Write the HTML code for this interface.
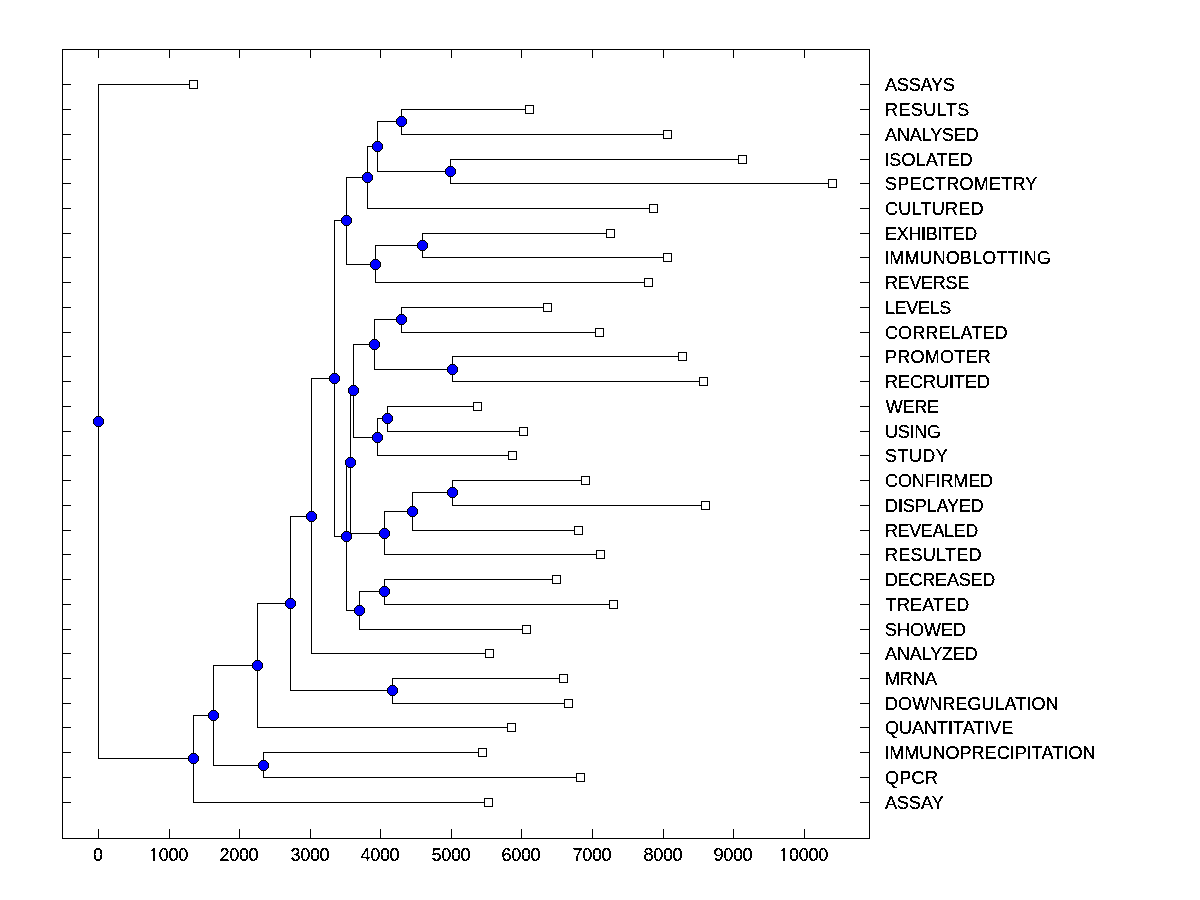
<!DOCTYPE html>
<html><head><meta charset="utf-8"><title>Dendrogram</title>
<style>
html,body{margin:0;padding:0;background:#fff;}
body{width:1200px;height:900px;overflow:hidden;}
svg{display:block;}
text{font-family:"Liberation Sans",Arial,sans-serif;font-size:18px;fill:#000;stroke:none;}
.one{font-family:NanumGothic,"Liberation Sans",sans-serif;}
</style></head><body>
<svg width="1200" height="900" viewBox="0 0 1200 900">
<rect x="0" y="0" width="1200" height="900" fill="#fff"/>
<defs><filter id="alias" x="0" y="0" width="1200" height="900" filterUnits="userSpaceOnUse" color-interpolation-filters="sRGB"><feComponentTransfer><feFuncA type="discrete" tableValues="0 1 1"/></feComponentTransfer></filter></defs>
<g shape-rendering="crispEdges" fill="#000">
<path d="M62,49h808v1h-808zM62,838h808v1h-808zM62,49h1v790h-1zM869,49h1v790h-1zM98,49h1v9h-1zM98,829h1v10h-1zM169,49h1v9h-1zM169,829h1v10h-1zM239,49h1v9h-1zM239,829h1v10h-1zM310,49h1v9h-1zM310,829h1v10h-1zM380,49h1v9h-1zM380,829h1v10h-1zM451,49h1v9h-1zM451,829h1v10h-1zM521,49h1v9h-1zM521,829h1v10h-1zM592,49h1v9h-1zM592,829h1v10h-1zM663,49h1v9h-1zM663,829h1v10h-1zM733,49h1v9h-1zM733,829h1v10h-1zM804,49h1v9h-1zM804,829h1v10h-1zM62,84h9v1h-9zM860,84h10v1h-10zM62,109h9v1h-9zM860,109h10v1h-10zM62,134h9v1h-9zM860,134h10v1h-10zM62,159h9v1h-9zM860,159h10v1h-10zM62,183h9v1h-9zM860,183h10v1h-10zM62,208h9v1h-9zM860,208h10v1h-10zM62,233h9v1h-9zM860,233h10v1h-10zM62,257h9v1h-9zM860,257h10v1h-10zM62,282h9v1h-9zM860,282h10v1h-10zM62,307h9v1h-9zM860,307h10v1h-10zM62,332h9v1h-9zM860,332h10v1h-10zM62,356h9v1h-9zM860,356h10v1h-10zM62,381h9v1h-9zM860,381h10v1h-10zM62,406h9v1h-9zM860,406h10v1h-10zM62,431h9v1h-9zM860,431h10v1h-10zM62,455h9v1h-9zM860,455h10v1h-10zM62,480h9v1h-9zM860,480h10v1h-10zM62,505h9v1h-9zM860,505h10v1h-10zM62,530h9v1h-9zM860,530h10v1h-10zM62,554h9v1h-9zM860,554h10v1h-10zM62,579h9v1h-9zM860,579h10v1h-10zM62,604h9v1h-9zM860,604h10v1h-10zM62,629h9v1h-9zM860,629h10v1h-10zM62,653h9v1h-9zM860,653h10v1h-10zM62,678h9v1h-9zM860,678h10v1h-10zM62,703h9v1h-9zM860,703h10v1h-10zM62,727h9v1h-9zM860,727h10v1h-10zM62,752h9v1h-9zM860,752h10v1h-10zM62,777h9v1h-9zM860,777h10v1h-10zM62,802h9v1h-9zM860,802h10v1h-10zM401,109h1v26h-1zM401,109h129v1h-129zM401,134h267v1h-267zM450,159h1v25h-1zM450,159h293v1h-293zM450,183h383v1h-383zM377,121h1v51h-1zM377,121h25v1h-25zM377,171h74v1h-74zM367,146h1v63h-1zM367,146h11v1h-11zM367,208h287v1h-287zM422,233h1v25h-1zM422,233h189v1h-189zM422,257h246v1h-246zM375,245h1v38h-1zM375,245h48v1h-48zM375,282h274v1h-274zM346,177h1v88h-1zM346,177h22v1h-22zM346,264h30v1h-30zM401,307h1v26h-1zM401,307h147v1h-147zM401,332h199v1h-199zM452,356h1v26h-1zM452,356h231v1h-231zM452,381h252v1h-252zM374,319h1v51h-1zM374,319h28v1h-28zM374,369h79v1h-79zM387,406h1v26h-1zM387,406h91v1h-91zM387,431h137v1h-137zM377,418h1v38h-1zM377,418h11v1h-11zM377,455h136v1h-136zM353,344h1v94h-1zM353,344h22v1h-22zM353,437h25v1h-25zM452,480h1v26h-1zM452,480h134v1h-134zM452,505h254v1h-254zM412,492h1v39h-1zM412,492h41v1h-41zM412,530h167v1h-167zM384,511h1v44h-1zM384,511h29v1h-29zM384,554h217v1h-217zM384,579h1v26h-1zM384,579h173v1h-173zM384,604h230v1h-230zM359,591h1v39h-1zM359,591h26v1h-26zM359,629h168v1h-168zM350,390h1v144h-1zM350,390h4v1h-4zM350,533h35v1h-35zM346,462h1v149h-1zM346,462h5v1h-5zM346,610h14v1h-14zM334,220h1v317h-1zM334,220h13v1h-13zM334,536h13v1h-13zM311,378h1v276h-1zM311,378h24v1h-24zM311,653h179v1h-179zM392,678h1v26h-1zM392,678h172v1h-172zM392,703h177v1h-177zM290,516h1v175h-1zM290,516h22v1h-22zM290,690h103v1h-103zM257,603h1v125h-1zM257,603h34v1h-34zM257,727h255v1h-255zM263,752h1v26h-1zM263,752h220v1h-220zM263,777h318v1h-318zM213,665h1v101h-1zM213,665h45v1h-45zM213,765h51v1h-51zM193,715h1v88h-1zM193,715h21v1h-21zM193,802h296v1h-296zM98,84h1v675h-1zM98,84h96v1h-96zM98,758h96v1h-96z"/>
<path fill="#000" d="M399,116h5v1h1v1h1v1h1v5h-1v1h-1v1h-1v1h-5v-1h-1v-1h-1v-1h-1v-5h1v-1h1v-1h1zM448,166h5v1h1v1h1v1h1v5h-1v1h-1v1h-1v1h-5v-1h-1v-1h-1v-1h-1v-5h1v-1h1v-1h1zM375,141h5v1h1v1h1v1h1v5h-1v1h-1v1h-1v1h-5v-1h-1v-1h-1v-1h-1v-5h1v-1h1v-1h1zM365,172h5v1h1v1h1v1h1v5h-1v1h-1v1h-1v1h-5v-1h-1v-1h-1v-1h-1v-5h1v-1h1v-1h1zM420,240h5v1h1v1h1v1h1v5h-1v1h-1v1h-1v1h-5v-1h-1v-1h-1v-1h-1v-5h1v-1h1v-1h1zM373,259h5v1h1v1h1v1h1v5h-1v1h-1v1h-1v1h-5v-1h-1v-1h-1v-1h-1v-5h1v-1h1v-1h1zM344,215h5v1h1v1h1v1h1v5h-1v1h-1v1h-1v1h-5v-1h-1v-1h-1v-1h-1v-5h1v-1h1v-1h1zM399,314h5v1h1v1h1v1h1v5h-1v1h-1v1h-1v1h-5v-1h-1v-1h-1v-1h-1v-5h1v-1h1v-1h1zM450,364h5v1h1v1h1v1h1v5h-1v1h-1v1h-1v1h-5v-1h-1v-1h-1v-1h-1v-5h1v-1h1v-1h1zM372,339h5v1h1v1h1v1h1v5h-1v1h-1v1h-1v1h-5v-1h-1v-1h-1v-1h-1v-5h1v-1h1v-1h1zM385,413h5v1h1v1h1v1h1v5h-1v1h-1v1h-1v1h-5v-1h-1v-1h-1v-1h-1v-5h1v-1h1v-1h1zM375,432h5v1h1v1h1v1h1v5h-1v1h-1v1h-1v1h-5v-1h-1v-1h-1v-1h-1v-5h1v-1h1v-1h1zM351,385h5v1h1v1h1v1h1v5h-1v1h-1v1h-1v1h-5v-1h-1v-1h-1v-1h-1v-5h1v-1h1v-1h1zM450,487h5v1h1v1h1v1h1v5h-1v1h-1v1h-1v1h-5v-1h-1v-1h-1v-1h-1v-5h1v-1h1v-1h1zM410,506h5v1h1v1h1v1h1v5h-1v1h-1v1h-1v1h-5v-1h-1v-1h-1v-1h-1v-5h1v-1h1v-1h1zM382,528h5v1h1v1h1v1h1v5h-1v1h-1v1h-1v1h-5v-1h-1v-1h-1v-1h-1v-5h1v-1h1v-1h1zM382,586h5v1h1v1h1v1h1v5h-1v1h-1v1h-1v1h-5v-1h-1v-1h-1v-1h-1v-5h1v-1h1v-1h1zM357,605h5v1h1v1h1v1h1v5h-1v1h-1v1h-1v1h-5v-1h-1v-1h-1v-1h-1v-5h1v-1h1v-1h1zM348,457h5v1h1v1h1v1h1v5h-1v1h-1v1h-1v1h-5v-1h-1v-1h-1v-1h-1v-5h1v-1h1v-1h1zM344,531h5v1h1v1h1v1h1v5h-1v1h-1v1h-1v1h-5v-1h-1v-1h-1v-1h-1v-5h1v-1h1v-1h1zM332,373h5v1h1v1h1v1h1v5h-1v1h-1v1h-1v1h-5v-1h-1v-1h-1v-1h-1v-5h1v-1h1v-1h1zM309,511h5v1h1v1h1v1h1v5h-1v1h-1v1h-1v1h-5v-1h-1v-1h-1v-1h-1v-5h1v-1h1v-1h1zM390,685h5v1h1v1h1v1h1v5h-1v1h-1v1h-1v1h-5v-1h-1v-1h-1v-1h-1v-5h1v-1h1v-1h1zM288,598h5v1h1v1h1v1h1v5h-1v1h-1v1h-1v1h-5v-1h-1v-1h-1v-1h-1v-5h1v-1h1v-1h1zM255,660h5v1h1v1h1v1h1v5h-1v1h-1v1h-1v1h-5v-1h-1v-1h-1v-1h-1v-5h1v-1h1v-1h1zM261,760h5v1h1v1h1v1h1v5h-1v1h-1v1h-1v1h-5v-1h-1v-1h-1v-1h-1v-5h1v-1h1v-1h1zM211,710h5v1h1v1h1v1h1v5h-1v1h-1v1h-1v1h-5v-1h-1v-1h-1v-1h-1v-5h1v-1h1v-1h1zM191,753h5v1h1v1h1v1h1v5h-1v1h-1v1h-1v1h-5v-1h-1v-1h-1v-1h-1v-5h1v-1h1v-1h1zM96,416h5v1h1v1h1v1h1v5h-1v1h-1v1h-1v1h-5v-1h-1v-1h-1v-1h-1v-5h1v-1h1v-1h1z"/>
<path fill="#00f" d="M399,117h5v1h1v1h1v5h-1v1h-1v1h-5v-1h-1v-1h-1v-5h1v-1h1zM448,167h5v1h1v1h1v5h-1v1h-1v1h-5v-1h-1v-1h-1v-5h1v-1h1zM375,142h5v1h1v1h1v5h-1v1h-1v1h-5v-1h-1v-1h-1v-5h1v-1h1zM365,173h5v1h1v1h1v5h-1v1h-1v1h-5v-1h-1v-1h-1v-5h1v-1h1zM420,241h5v1h1v1h1v5h-1v1h-1v1h-5v-1h-1v-1h-1v-5h1v-1h1zM373,260h5v1h1v1h1v5h-1v1h-1v1h-5v-1h-1v-1h-1v-5h1v-1h1zM344,216h5v1h1v1h1v5h-1v1h-1v1h-5v-1h-1v-1h-1v-5h1v-1h1zM399,315h5v1h1v1h1v5h-1v1h-1v1h-5v-1h-1v-1h-1v-5h1v-1h1zM450,365h5v1h1v1h1v5h-1v1h-1v1h-5v-1h-1v-1h-1v-5h1v-1h1zM372,340h5v1h1v1h1v5h-1v1h-1v1h-5v-1h-1v-1h-1v-5h1v-1h1zM385,414h5v1h1v1h1v5h-1v1h-1v1h-5v-1h-1v-1h-1v-5h1v-1h1zM375,433h5v1h1v1h1v5h-1v1h-1v1h-5v-1h-1v-1h-1v-5h1v-1h1zM351,386h5v1h1v1h1v5h-1v1h-1v1h-5v-1h-1v-1h-1v-5h1v-1h1zM450,488h5v1h1v1h1v5h-1v1h-1v1h-5v-1h-1v-1h-1v-5h1v-1h1zM410,507h5v1h1v1h1v5h-1v1h-1v1h-5v-1h-1v-1h-1v-5h1v-1h1zM382,529h5v1h1v1h1v5h-1v1h-1v1h-5v-1h-1v-1h-1v-5h1v-1h1zM382,587h5v1h1v1h1v5h-1v1h-1v1h-5v-1h-1v-1h-1v-5h1v-1h1zM357,606h5v1h1v1h1v5h-1v1h-1v1h-5v-1h-1v-1h-1v-5h1v-1h1zM348,458h5v1h1v1h1v5h-1v1h-1v1h-5v-1h-1v-1h-1v-5h1v-1h1zM344,532h5v1h1v1h1v5h-1v1h-1v1h-5v-1h-1v-1h-1v-5h1v-1h1zM332,374h5v1h1v1h1v5h-1v1h-1v1h-5v-1h-1v-1h-1v-5h1v-1h1zM309,512h5v1h1v1h1v5h-1v1h-1v1h-5v-1h-1v-1h-1v-5h1v-1h1zM390,686h5v1h1v1h1v5h-1v1h-1v1h-5v-1h-1v-1h-1v-5h1v-1h1zM288,599h5v1h1v1h1v5h-1v1h-1v1h-5v-1h-1v-1h-1v-5h1v-1h1zM255,661h5v1h1v1h1v5h-1v1h-1v1h-5v-1h-1v-1h-1v-5h1v-1h1zM261,761h5v1h1v1h1v5h-1v1h-1v1h-5v-1h-1v-1h-1v-5h1v-1h1zM211,711h5v1h1v1h1v5h-1v1h-1v1h-5v-1h-1v-1h-1v-5h1v-1h1zM191,754h5v1h1v1h1v5h-1v1h-1v1h-5v-1h-1v-1h-1v-5h1v-1h1zM96,417h5v1h1v1h1v5h-1v1h-1v1h-5v-1h-1v-1h-1v-5h1v-1h1z"/>
<path fill="#000" d="M189,80h9v9h-9zM525,105h9v9h-9zM663,130h9v9h-9zM738,155h9v9h-9zM828,179h9v9h-9zM649,204h9v9h-9zM606,229h9v9h-9zM663,253h9v9h-9zM644,278h9v9h-9zM543,303h9v9h-9zM595,328h9v9h-9zM678,352h9v9h-9zM699,377h9v9h-9zM473,402h9v9h-9zM519,427h9v9h-9zM508,451h9v9h-9zM581,476h9v9h-9zM701,501h9v9h-9zM574,526h9v9h-9zM596,550h9v9h-9zM552,575h9v9h-9zM609,600h9v9h-9zM522,625h9v9h-9zM485,649h9v9h-9zM559,674h9v9h-9zM564,699h9v9h-9zM507,723h9v9h-9zM478,748h9v9h-9zM576,773h9v9h-9zM484,798h9v9h-9z"/>
<path fill="#fff" d="M190,81h7v7h-7zM526,106h7v7h-7zM664,131h7v7h-7zM739,156h7v7h-7zM829,180h7v7h-7zM650,205h7v7h-7zM607,230h7v7h-7zM664,254h7v7h-7zM645,279h7v7h-7zM544,304h7v7h-7zM596,329h7v7h-7zM679,353h7v7h-7zM700,378h7v7h-7zM474,403h7v7h-7zM520,428h7v7h-7zM509,452h7v7h-7zM582,477h7v7h-7zM702,502h7v7h-7zM575,527h7v7h-7zM597,551h7v7h-7zM553,576h7v7h-7zM610,601h7v7h-7zM523,626h7v7h-7zM486,650h7v7h-7zM560,675h7v7h-7zM565,700h7v7h-7zM508,724h7v7h-7zM479,749h7v7h-7zM577,774h7v7h-7zM485,799h7v7h-7z"/>
</g>
<g filter="url(#alias)">
<text x="885.00" y="91" textLength="69.80" lengthAdjust="spacing">ASSAYS</text>
<text x="885.00" y="116" textLength="84.39" lengthAdjust="spacing">RESULTS</text>
<text x="885.00" y="141" textLength="93.80" lengthAdjust="spacing">ANALYSED</text>
<text x="884.20" y="166" textLength="88.60" lengthAdjust="spacing">ISOLATED</text>
<text x="885.00" y="190" textLength="152.39" lengthAdjust="spacing">SPECTROMETRY</text>
<text x="885.00" y="215" textLength="98.47" lengthAdjust="spacing">CULTURED</text>
<text x="885.00" y="240" textLength="92.33" lengthAdjust="spacing">EXHIBITED</text>
<text x="884.20" y="264" textLength="166.80" lengthAdjust="spacing">IMMUNOBLOTTING</text>
<text x="885.00" y="289" textLength="84.23" lengthAdjust="spacing">REVERSE</text>
<text x="885.00" y="314" textLength="66.25" lengthAdjust="spacing">LEVELS</text>
<text x="885.00" y="339" textLength="122.59" lengthAdjust="spacing">CORRELATED</text>
<text x="885.00" y="363" textLength="105.82" lengthAdjust="spacing">PROMOTER</text>
<text x="885.00" y="388" textLength="105.02" lengthAdjust="spacing">RECRUITED</text>
<text x="885.80" y="413" textLength="53.10" lengthAdjust="spacing">WERE</text>
<text x="885.00" y="438" textLength="56.12" lengthAdjust="spacing">USING</text>
<text x="885.00" y="462" textLength="62.82" lengthAdjust="spacing">STUDY</text>
<text x="885.00" y="487" textLength="108.10" lengthAdjust="spacing">CONFIRMED</text>
<text x="885.00" y="512" textLength="98.80" lengthAdjust="spacing">DISPLAYED</text>
<text x="885.00" y="537" textLength="93.35" lengthAdjust="spacing">REVEALED</text>
<text x="885.00" y="561" textLength="96.49" lengthAdjust="spacing">RESULTED</text>
<text x="885.00" y="586" textLength="110.23" lengthAdjust="spacing">DECREASED</text>
<text x="885.80" y="611" textLength="83.57" lengthAdjust="spacing">TREATED</text>
<text x="885.00" y="636" textLength="81.00" lengthAdjust="spacing">SHOWED</text>
<text x="885.00" y="660" textLength="92.80" lengthAdjust="spacing">ANALYZED</text>
<text x="885.00" y="685" textLength="52.10" lengthAdjust="spacing">MRNA</text>
<text x="885.00" y="710" textLength="173.57" lengthAdjust="spacing">DOWNREGULATION</text>
<text x="885.00" y="734" textLength="128.34" lengthAdjust="spacing">QUANTITATIVE</text>
<text x="884.20" y="759" textLength="211.24" lengthAdjust="spacing">IMMUNOPRECIPITATION</text>
<text x="885.00" y="784" textLength="52.92" lengthAdjust="spacing">QPCR</text>
<text x="885.00" y="809" textLength="58.70" lengthAdjust="spacing">ASSAY</text>
<text x="93.09" y="861" textLength="10.02" lengthAdjust="spacing">0</text>
<text x="148.22" y="861" textLength="40.07" lengthAdjust="spacing"><tspan class="one">1</tspan>000</text>
<text x="219.48" y="861" textLength="39.15" lengthAdjust="spacing">2000</text>
<text x="290.48" y="861" textLength="39.15" lengthAdjust="spacing">3000</text>
<text x="360.48" y="861" textLength="39.15" lengthAdjust="spacing">4000</text>
<text x="431.48" y="861" textLength="39.15" lengthAdjust="spacing">5000</text>
<text x="501.48" y="861" textLength="39.15" lengthAdjust="spacing">6000</text>
<text x="572.48" y="861" textLength="39.15" lengthAdjust="spacing">7000</text>
<text x="643.48" y="861" textLength="39.15" lengthAdjust="spacing">8000</text>
<text x="713.48" y="861" textLength="39.15" lengthAdjust="spacing">9000</text>
<text x="778.22" y="861" textLength="50.07" lengthAdjust="spacing"><tspan class="one">1</tspan>0000</text>
</g>
</svg>
</body></html>
